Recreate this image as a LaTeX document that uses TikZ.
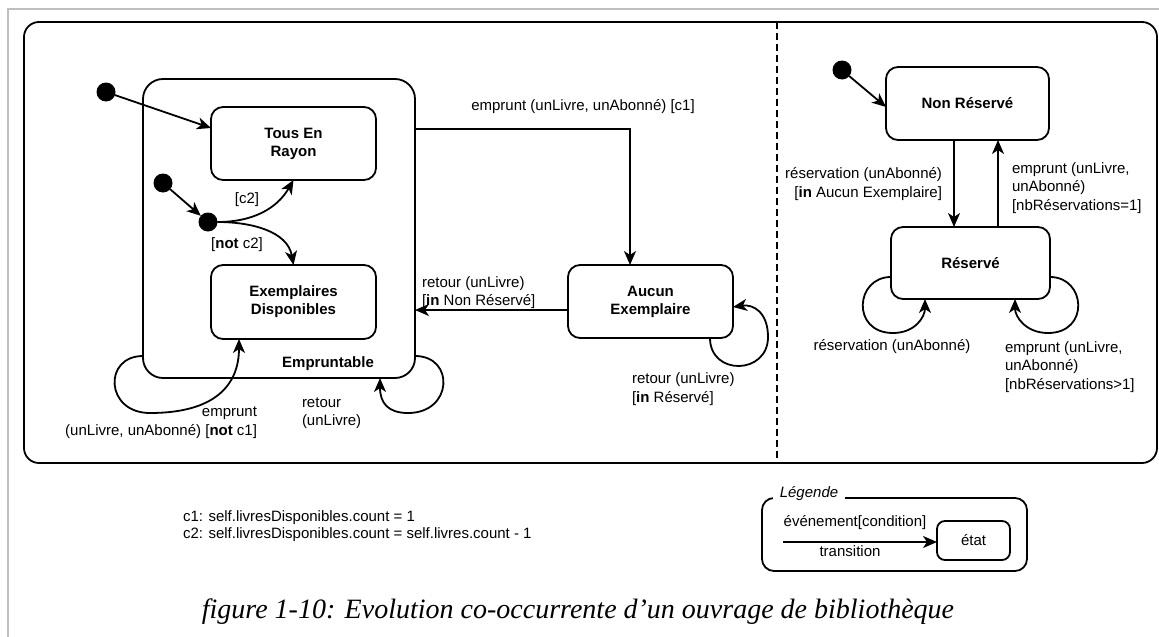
\documentclass[tikz,border=0pt]{standalone}
\usepackage{fontspec}
\setmainfont{Liberation Sans}
\newfontfamily\capfont{Liberation Serif}
\usetikzlibrary{arrows.meta}

\begin{document}
\begin{tikzpicture}[x=1pt,y=-1pt,
  every node/.style={font=\fontsize{15}{18.5}\selectfont, inner sep=0pt, outer sep=0pt},
  state/.style={draw, line width=1.8pt, rounded corners=12pt, align=center,
    font=\fontsize{15}{18}\selectfont\bfseries},
  arr/.style={line width=1.8pt, -{Stealth[length=14pt,width=12pt,inset=4pt]}},
  initdot/.style={circle, fill, minimum size=19pt},
  lbl/.style={align=left},
  rlbl/.style={align=right},
]
\useasboundingbox (0,0) rectangle (1159,637);

% page frame
\draw[black!25, line width=2pt] (1159,9) -- (7.5,9) -- (7.5,637);

% concurrent composite state and its regions
\node[draw, line width=1.8pt, rounded corners=15pt, minimum width=1133pt, minimum height=441pt]
  (outer) at (590.5,242.5) {};
\draw[line width=1.8pt, dash pattern=on 7pt off 4pt]
  ([xshift=186.5pt]outer.north) -- ([xshift=186.5pt]outer.south);

% left region
\node[draw, line width=1.8pt, rounded corners=20pt, minimum width=272pt, minimum height=299pt]
  (emp) at (279,228.5) {};
\node[font=\fontsize{15}{18}\selectfont\bfseries] (empname) at (328,364) {Empruntable};
\node[state, minimum width=165pt, minimum height=73pt] (tous) at (293.5,143.5) {Tous En\\Rayon};
\node[state, minimum width=165pt, minimum height=74pt] (expl) at (293.5,302) {Exemplaires\\Disponibles};
\node[state, minimum width=165pt, minimum height=73pt] (aucun) at (650.5,301.5) {Aucun\\Exemplaire};

\node[initdot] (i1) at (106,92) {};
\node[initdot] (i2) at (163,183) {};
\node[initdot] (j) at (208,222) {};

\draw[arr] (i1) -- ([yshift=15.5pt]tous.west);
\draw[arr] (i2) -- (j);
\draw[arr] (j.east) to[out=0,in=-120] (tous.south);
\draw[arr] (j.east) to[out=0,in=100] (expl.north);
\node (lc2) at (247,200) {[c2]};
\node (lnc2) at (237,245) {[\textbf{not} c2]};

% self transitions on Empruntable
\draw[arr] ([yshift=-127.5pt]emp.west) .. controls +(-40,0) and +(-45,0) .. (150,413)
  .. controls +(65,0) and +(0,46) .. ([xshift=-54.5pt]expl.south);
\node[rlbl, anchor=east] (lemp) at (257,422.5) {emprunt\\(unLivre, unAbonné) [\textbf{not} c1]};
\draw[arr] ([yshift=-127.5pt]emp.east) .. controls +(40,0) and +(45,0) .. (408,413)
  .. controls +(-20,0) and +(0,25) .. ([xshift=101pt]emp.south);
\node[lbl, anchor=west] (lret) at (302,413) {retour\\(unLivre)};

% Empruntable <-> Aucun Exemplaire
\coordinate (ee) at ([yshift=-50pt]emp.north east);
\draw[arr] (ee) -| ([xshift=-20.5pt]aucun.north);
\node (lc1) at (583,107) {emprunt (unLivre, unAbonné) [c1]};
\coordinate (aw) at ([yshift=-8.5pt]aucun.west);
\draw[arr] (aw) -- (aw -| emp.east);
\node[lbl, anchor=west] (lretnr) at (422,292.5) {retour (unLivre)\\{}[\textbf{in} Non Réservé]};
\draw[arr] ([xshift=59.5pt]aucun.south) .. controls +(0,38) and +(0,38) .. (768,337)
  .. controls +(0,-25) and +(20,-3) .. ([yshift=-5.5pt]aucun.west -| aucun.east);
\node[lbl, anchor=west] (lretr) at (632,389) {retour (unLivre)\\{}[\textbf{in} Réservé]};

% right region
\node[state, minimum width=163pt, minimum height=73pt] (nonres) at (967.5,103.5) {Non Réservé};
\node[state, minimum width=159pt, minimum height=72pt] (res) at (970.5,263) {Réservé};
\node[initdot] (i3) at (842,70) {};
\draw[arr] (i3) -- ([yshift=-3.5pt]nonres.west);

\coordinate (nd) at ([xshift=-13.5pt]nonres.south);
\draw[arr] (nd) -- (nd |- res.north);
\node[rlbl, anchor=east] (lres) at (942,184) {réservation (unAbonné)\\{}[\textbf{in} Aucun Exemplaire]};
\coordinate (nu) at ([xshift=30.5pt]nonres.south);
\draw[arr] (nu |- res.north) -- (nu);
\node[lbl, anchor=west] (lemp1) at (1012,188) {emprunt (unLivre,\\unAbonné)\\{}[nbRéservations=1]};

\draw[arr] ([yshift=-14pt]res.west) .. controls +(-36,0) and +(-42,0) .. (893,333)
  .. controls +(22,0) and +(0,18) .. ([xshift=-45.5pt]res.south);
\node (lresself) at (892,347) {réservation (unAbonné)};
\draw[arr] ([yshift=-14pt]res.east) .. controls +(36,0) and +(42,0) .. (1048,333)
  .. controls +(-22,0) and +(0,18) .. ([xshift=44.5pt]res.south);
\node[lbl, anchor=west] (lempn) at (1005,367) {emprunt (unLivre,\\unAbonné)\\{}[nbRéservations>1]};

% guard conditions
\node[lbl, anchor=west, font=\fontsize{15}{17}\selectfont] (conds) at (183,526.5)
  {c1: self.livresDisponibles.count = 1\\c2: self.livresDisponibles.count = self.livres.count - 1};

% legend
\node[draw, line width=1.8pt, rounded corners=12pt, minimum width=265pt, minimum height=73pt]
  (leg) at (894.5,534.5) {};
\node[fill=white, inner xsep=7pt, inner ysep=1pt, font=\fontsize{15}{18}\selectfont\itshape]
  (legtitle) at (809,494) {Légende};
\node[draw, line width=1.8pt, rounded corners=8pt, minimum width=73pt, minimum height=39pt,
  font=\fontsize{15}{18}\selectfont] (etat) at (973.5,540.5) {état};
\coordinate (legstart) at (783,542);
\draw[arr] (legstart) -- (legstart -| etat.west);
\node (legev) at (855,523) {événement[condition]};
\node (legtr) at (850,551) {transition};

% caption
\node[font=\fontsize{28}{32}\selectfont\capfont\itshape] (caption) at (578,612)
  {figure 1-10: Evolution co-occurrente d’un ouvrage de bibliothèque};
\end{tikzpicture}
\end{document}
